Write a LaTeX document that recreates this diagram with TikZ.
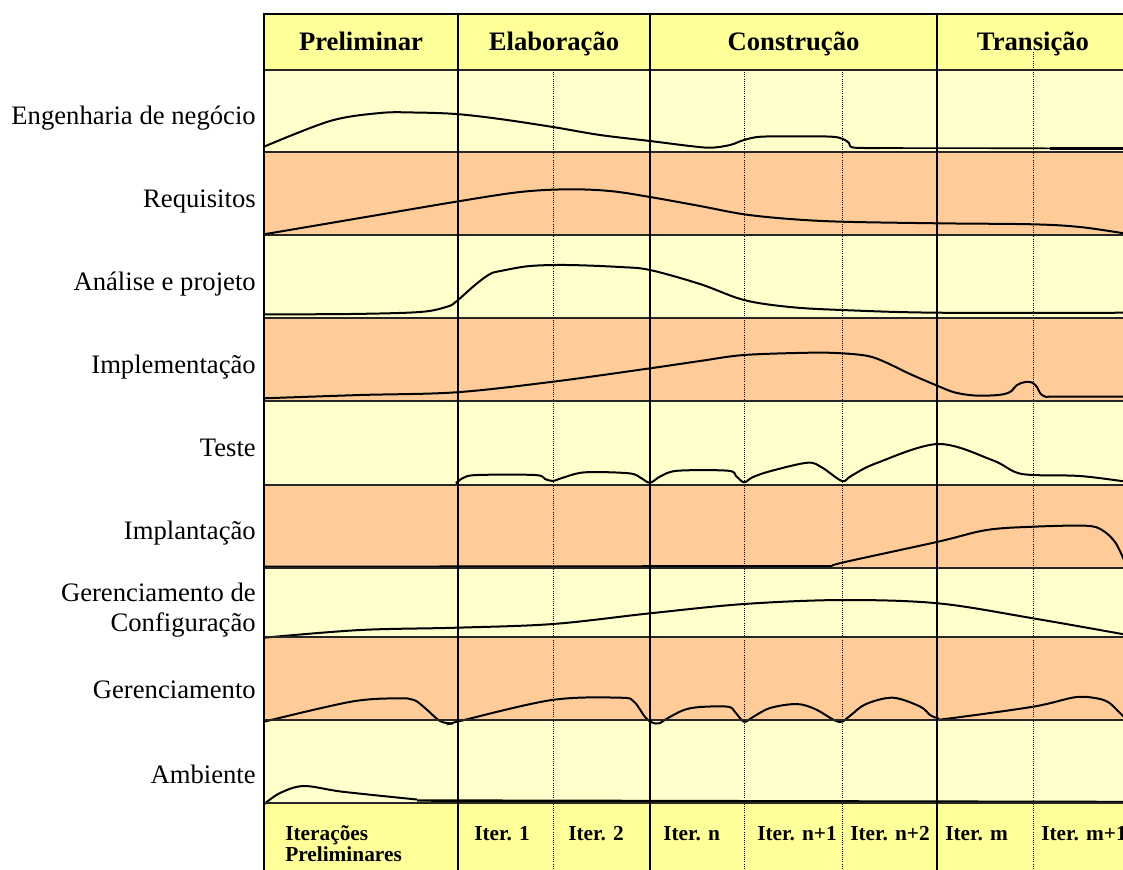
\documentclass[tikz,border=0pt]{standalone}
\usepackage{fontspec}
\setmainfont{Liberation Serif}
\definecolor{hdr}{HTML}{FFFF99}
\definecolor{lite}{HTML}{FFFFCC}
\definecolor{peach}{HTML}{FFCC99}
\begin{document}
\begin{tikzpicture}[x=0.75pt,y=-0.75pt,
  rowlabel/.style={anchor=base east,inner sep=0pt,font=\fontsize{20}{22}\selectfont},
  phase/.style={anchor=base,inner sep=0pt,font=\fontsize{20}{24}\selectfont\bfseries},
  iter/.style={anchor=base west,inner sep=0pt,font=\fontsize{16}{18}\selectfont\bfseries},
  gridline/.style={line width=1.6pt,black!85},
  vline/.style={line width=1.1pt,black},
  dotline/.style={line width=0.6pt,densely dotted,black},
  curve/.style={line width=1.5pt,black,smooth,tension=0.55}]
\useasboundingbox (0,0) rectangle (1123,869);
\clip (0,0) rectangle (1123,869);
% fills
\fill[hdr] (264,14) rectangle (1130,70);
\fill[lite] (264,70) rectangle (1130,152);
\fill[peach] (264,152) rectangle (1130,235);
\fill[lite] (264,235) rectangle (1130,318);
\fill[peach] (264,318) rectangle (1130,401);
\fill[lite] (264,401) rectangle (1130,485);
\fill[peach] (264,485) rectangle (1130,568);
\fill[lite] (264,568) rectangle (1130,637);
\fill[peach] (264,637) rectangle (1130,720);
\fill[lite] (264,720) rectangle (1130,803);
\fill[hdr] (264,803) rectangle (1130,875);
% dotted iteration lines
\foreach \x in {553,744,842,1033} \draw[dotline] (\x,70) -- (\x,875);
\draw[dotline] (1033,52) -- (1033,70);
% curves
\draw[curve] plot coordinates {(264,146.7) (330,121) (380,113) (414,112.5) (456,114) (500,119) (553,127) (600,135) (650,141) (690,146) (711,147.7) (730,145) (744,140) (761,136.7) (800,136.3) (832,136.7) (843,139) (849,143) (853,147.5) (880,148)};
\draw[line width=1.2pt] (880,148) -- (1050,148.3);
\draw[line width=2.4pt] (1050,148.3) -- (1130,148.3);
\draw[curve] plot coordinates {(264,234.3) (360,218) (456,201.7) (520,192) (568,189.3) (610,191) (650,197) (700,206) (744,214.3) (790,219) (842,221.7) (938,223.3) (1033,224.3) (1080,227) (1125,233.5)};
\draw[curve] plot coordinates {(264,314.3) (350,314) (420,312) (447,306.7) (456,301.7) (475,285) (490,274) (502,270.7) (530,266) (568,265) (620,267) (650,270) (700,284) (744,300) (790,307) (842,310) (938,312.7) (1130,312.7)};
\draw[curve] plot coordinates {(264,398.3) (360,395) (456,392.3) (553,381.7) (650,368.3) (700,361) (744,355) (810,352.7) (842,353.3) (868,356) (885,362) (910,374) (938,386) (955,392.5) (975,395.5) (998,395) (1010,392) (1017,385) (1025,382) (1032,382.5) (1037,387) (1040,393) (1045,396.5) (1055,396.7) (1130,396.7)};
\draw[curve] plot coordinates {(456,483.3) (463,478) (477,475) (535,475) (545,479) (553,481) (562,478) (585,472.3) (629,473.3) (641,478) (650,482.7) (661,476) (678,470.7) (728,470.7) (736,476) (744,482.3) (753,477) (772,470.7) (807.6,462.7) (822,467.5) (842,481) (851,476) (876,463.3) (938,444) (992,460) (1015,472) (1033,475) (1080,476) (1125,481.5)};
\draw[line width=1.5pt] (264,566.7) -- (832,566);
\draw[curve] plot coordinates {(832,566) (845,562) (938,541.7) (986.5,530) (1033,526.7) (1085.5,525.7) (1102,530) (1115,542) (1124,560)};
\draw[curve] plot coordinates {(264,637.7) (360,630) (456,627.7) (553,624) (650,613.3) (744,604) (842,600) (938,603.3) (1033,618.3) (1125,634.5)};
\draw[curve] plot coordinates {(264,721.7) (351,701.7) (397.6,698.3) (414,700) (425,708) (440,721) (452,723.3) (458,721.5) (551.7,700) (620.5,697.7) (634,701.7) (645,717) (652,722.5) (659,723.3) (668,718) (683.8,710) (700,707) (728,706.7) (735,712) (744,721.7) (753,717) (770,708) (796.6,704) (815,709) (834,720) (842,721.7) (851,715) (866,704) (893,697.7) (920.4,706.7) (930,715) (938,718.3) (945,719) (1033,706.7) (1074.5,697.3) (1095,698) (1108,702) (1118,711) (1125,718)};
\draw[curve] plot coordinates {(264,804.3) (280,793) (304,786) (342.5,791.7) (417,799.5)};
\draw[line width=1.8pt] (417,800.5) -- (1130,802);
% grid lines
\foreach \y in {70,152,235,318,401,485,568,637,720,803} \draw[gridline] (264,\y) -- (1130,\y);
\draw[line width=1.6pt] (264,14) -- (1130,14);
\foreach \x in {458,650,937} \draw[vline] (\x,14) -- (\x,875);
\draw[line width=2.2pt] (264,13) -- (264,875);
% header
\node[phase] (p1) at (361,50) {Preliminar};
\node[phase] (p2) at (554,50) {Elaboração};
\node[phase] (p3) at (793.5,50) {Construção};
\node[phase] (p4) at (1033,50) {Transição};
% row labels
\node[rowlabel] (r1) at (256,124.3) {Engenharia de negócio};
\node[rowlabel] (r2) at (256,207.3) {Requisitos};
\node[rowlabel] (r3) at (256,290.3) {Análise e projeto};
\node[rowlabel] (r4) at (256,373.3) {Implementação};
\node[rowlabel] (r5) at (256,456.3) {Teste};
\node[rowlabel] (r6) at (256,539.3) {Implantação};
\node[rowlabel] (r7a) at (256,601.7) {Gerenciamento de};
\node[rowlabel] (r7b) at (256,631.7) {Configuração};
\node[rowlabel] (r8) at (256,698.3) {Gerenciamento};
\node[rowlabel] (r9) at (256,783.3) {Ambiente};
% footer
\node[iter] (i0a) at (285,840) {Iterações};
\node[iter] (i0b) at (285,861.7) {Preliminares};
\node[iter] (i1) at (474,840) {Iter. 1};
\node[iter] (i2) at (568,840) {Iter. 2};
\node[iter] (i3) at (663,840) {Iter. n};
\node[iter] (i4) at (757,840) {Iter. n+1};
\node[iter] (i5) at (850,840) {Iter. n+2};
\node[iter] (i6) at (945,840) {Iter. m};
\node[iter] (i7) at (1041,840) {Iter. m+1};
\end{tikzpicture}
\end{document}
